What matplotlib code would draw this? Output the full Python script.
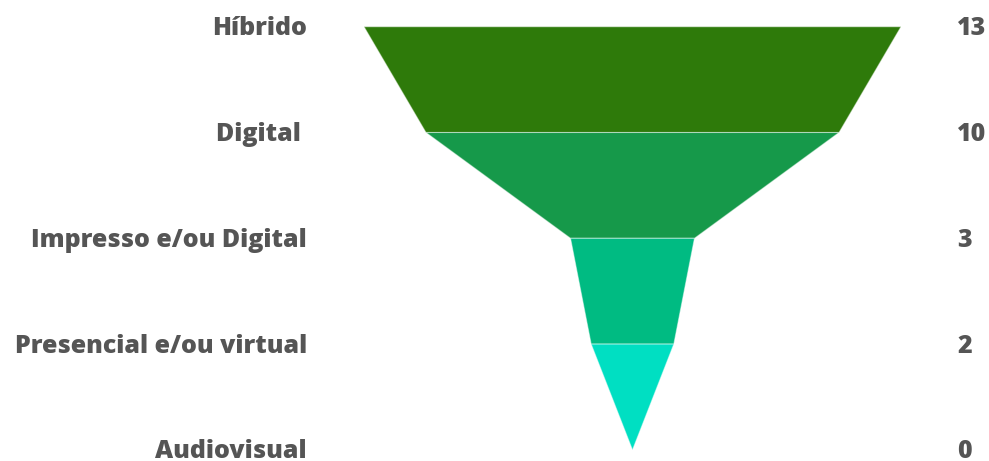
import matplotlib
matplotlib.use("Agg")
import matplotlib.pyplot as plt
from matplotlib.patches import Polygon

categories = ["Híbrido", "Digital ", "Impresso e/ou Digital", "Presencial e/ou virtual", "Audiovisual"]
values = [13, 10, 3, 2, 0]
colors = ["#2e7a0a", "#16994a", "#00bb82", "#00dfc2"]

W, H = 989, 461
fig = plt.figure(figsize=(W / 100, H / 100), dpi=100)
ax = fig.add_axes([0, 0, 1, 1])

cx = 632.5
unit = 537 / 13 / 2  # pixels per half-value unit
ax.set_xlim(-cx / unit, (W - cx) / unit)
top, step = 26.7, 105.8
ax.set_ylim((H - top) / step, -top / step)
ax.axis("off")

for i in range(len(values) - 1):
    a, b = values[i], values[i + 1]
    poly = Polygon([(-a, i), (a, i), (b, i + 1), (-b, i + 1)], closed=True,
                   facecolor=colors[i], edgecolor=(1, 1, 1, 0.45), linewidth=0.8)
    ax.add_patch(poly)

font = dict(family=["Open Sans", "DejaVu Sans"], fontweight=800, fontsize=18, color="#555555")
lab_x = (307 - cx) / unit
val_x = (957 - cx) / unit
for i, (c, v) in enumerate(zip(categories, values)):
    ax.text(lab_x, i + 8.5 / step, c, ha="right", va="baseline", **font)
    ax.text(val_x, i + 8.5 / step, str(v), ha="left", va="baseline", **font)

fig.savefig("out.png", dpi=100, facecolor="white")
